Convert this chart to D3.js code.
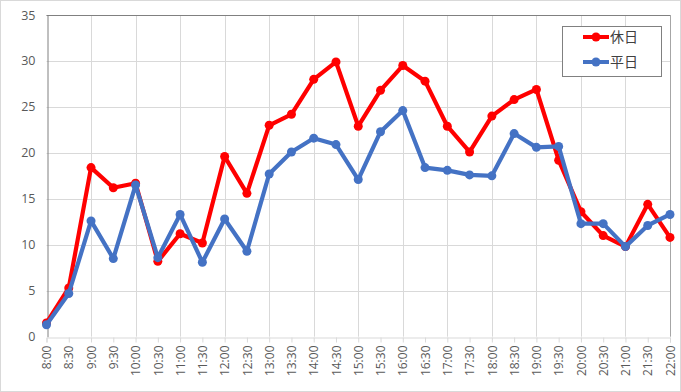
<!DOCTYPE html>
<html><head><meta charset="utf-8">
<script src="https://cdn.jsdelivr.net/npm/d3@7"></script>
<style>body{margin:0;background:#fff}svg{display:block}</style>
</head><body>
<svg id="c" width="681" height="392"></svg>
<script>
const categories = ["8:00","8:30","9:00","9:30","10:00","10:30","11:00","11:30","12:00","12:30","13:00","13:30","14:00","14:30","15:00","15:30","16:00","16:30","17:00","17:30","18:00","18:30","19:00","19:30","20:00","20:30","21:00","21:30","22:00"];
const holiday = [1.5,5.3,18.4,16.2,16.7,8.2,11.2,10.2,19.6,15.6,23.0,24.2,28.0,29.9,22.9,26.8,29.5,27.8,22.9,20.1,24.0,25.8,26.9,19.2,13.6,11.0,9.8,14.4,10.8];
const weekday = [1.3,4.7,12.6,8.5,16.5,8.6,13.3,8.1,12.8,9.3,17.7,20.1,21.6,20.9,17.1,22.3,24.6,18.4,18.1,17.6,17.5,22.1,20.6,20.7,12.3,12.3,9.8,12.1,13.3];
const yTicks = [0,5,10,15,20,25,30,35];
const seriesNames = ["休日","平日"];
const colors = ["#FF0000","#4472C4"];

const svg = d3.select("#c");
svg.append("rect").attr("x",0.5).attr("y",0.5).attr("width",680).attr("height",391)
  .attr("fill","#fff").attr("stroke","#d9d9d9");

const L=46.5, R=670, T=15, B=336.7;
const x = d3.scalePoint().domain(categories).range([L,R]);
const y = d3.scaleLinear().domain([0,35]).range([B,T]);

svg.append("g").selectAll("line").data(yTicks.slice(1)).join("line")
  .attr("x1",L).attr("x2",R).attr("y1",d=>Math.round(y(d))+0.5).attr("y2",d=>Math.round(y(d))+0.5)
  .attr("stroke","#d9d9d9").attr("stroke-width",1);
svg.append("g").selectAll("line").data(categories.filter((c,i)=>i%2===0 && i>0 && i<categories.length-1)).join("line")
  .attr("x1",d=>Math.round(x(d))+0.5).attr("x2",d=>Math.round(x(d))+0.5).attr("y1",T).attr("y2",B)
  .attr("stroke","#d9d9d9").attr("stroke-width",1);

svg.append("line").attr("x1",L).attr("x2",R).attr("y1",T+0.5).attr("y2",T+0.5).attr("stroke","#808080");
svg.append("line").attr("x1",R+0.5).attr("x2",R+0.5).attr("y1",T).attr("y2",B).attr("stroke","#a6a6a6");

const xAxis = svg.append("g").attr("transform",`translate(0,${Math.round(B)+0.5})`)
  .call(d3.axisBottom(x).tickSize(5).tickPadding(4));
xAxis.select(".domain").attr("stroke","#d9d9d9");
xAxis.selectAll(".tick line").attr("stroke","#d9d9d9");
xAxis.selectAll(".tick text")
  .attr("transform","rotate(-90)").attr("text-anchor","end")
  .attr("x",-8).attr("y",0).attr("dy","0.35em")
  .attr("fill","#595959").style("font-family","'Open Sans','Noto Sans',sans-serif").style("font-size","12px");

const yAxis = svg.append("g").attr("transform",`translate(${Math.round(L)+0.5},0)`)
  .call(d3.axisLeft(y).tickValues(yTicks).tickSize(0).tickPadding(12));
yAxis.select(".domain").attr("stroke","#808080");
yAxis.selectAll(".tick text").attr("fill","#595959")
  .style("font-family","'Open Sans','Noto Sans',sans-serif").style("font-size","12.5px");

const line = d3.line().x((d,i)=>x(categories[i])).y(d=>y(d));
[holiday,weekday].forEach((s,k)=>{
  const g = svg.append("g");
  g.append("path").datum(s).attr("d",line).attr("fill","none")
    .attr("stroke",colors[k]).attr("stroke-width",4.2).attr("stroke-linejoin","round");
  g.selectAll("circle").data(s).join("circle")
    .attr("cx",(d,i)=>x(categories[i])).attr("cy",d=>y(d)).attr("r",4.5).attr("fill",colors[k]);
});

const lg = svg.append("g");
lg.append("rect").attr("x",562.5).attr("y",26.5).attr("width",99).attr("height",50)
  .attr("fill","#fff").attr("stroke","#808080");
seriesNames.forEach((n,k)=>{
  const cy = 37 + k*25;
  lg.append("line").attr("x1",583).attr("x2",609).attr("y1",cy).attr("y2",cy)
    .attr("stroke",colors[k]).attr("stroke-width",4);
  lg.append("circle").attr("cx",596).attr("cy",cy).attr("r",4.5).attr("fill",colors[k]);
  lg.append("text").attr("x",610).attr("y",cy).attr("dy","0.36em").text(n)
    .attr("fill","#404040").style("font-family","'Noto Sans CJK JP',sans-serif").style("font-size","14px");
});
</script>
</body></html>
